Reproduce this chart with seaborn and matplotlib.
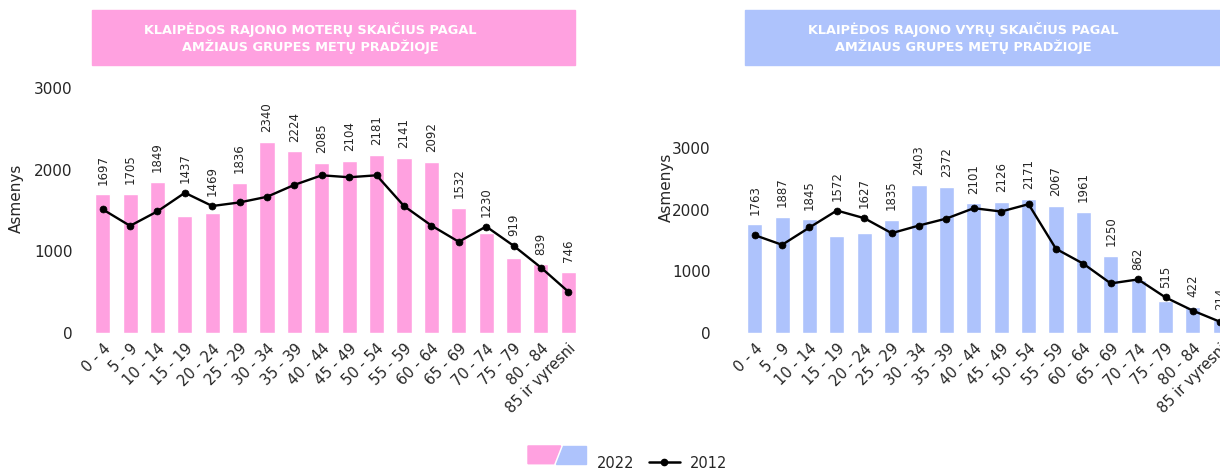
import numpy as np
import matplotlib
matplotlib.use("Agg")
import matplotlib.pyplot as plt
from matplotlib.patches import Rectangle, Polygon
from matplotlib.lines import Line2D
import seaborn as sns

ages = ["0 - 4", "5 - 9", "10 - 14", "15 - 19", "20 - 24", "25 - 29", "30 - 34",
        "35 - 39", "40 - 44", "45 - 49", "50 - 54", "55 - 59", "60 - 64",
        "65 - 69", "70 - 74", "75 - 79", "80 - 84", "85 ir vyresni"]

women_2022 = [1697, 1705, 1849, 1437, 1469, 1836, 2340, 2224, 2085, 2104, 2181,
              2141, 2092, 1532, 1230, 919, 839, 746]
women_2012 = [1514, 1312, 1490, 1717, 1555, 1599, 1668, 1814, 1931, 1907, 1931,
              1555, 1316, 1117, 1304, 1069, 802, 506]

men_2022 = [1763, 1887, 1845, 1572, 1627, 1835, 2403, 2372, 2101, 2126, 2171,
            2067, 1961, 1250, 862, 515, 422, 214]
men_2012 = [1587, 1430, 1711, 1986, 1862, 1619, 1743, 1856, 2024, 1970, 2089,
            1365, 1123, 804, 869, 577, 362, 180]

titles = ["KLAIPĖDOS RAJONO MOTERŲ SKAIČIUS PAGAL\nAMŽIAUS GRUPES METŲ PRADŽIOJE",
          "KLAIPĖDOS RAJONO VYRŲ SKAIČIUS PAGAL\nAMŽIAUS GRUPES METŲ PRADŽIOJE"]

PINK = "#FFA1E0"
BLUE = "#AEC3FC"

sns.set_style("white")
plt.rcParams["font.family"] = ["DejaVu Sans"]

fig = plt.figure(figsize=(12.2, 4.7), dpi=100)
W, H = 1220, 470


def px_axes(x0, x1, y_top, y_bot):
    return fig.add_axes([x0 / W, 1 - y_bot / H, (x1 - x0) / W, (y_bot - y_top) / H])


def draw_panel(ax, bars, line, color, title, box_x, label_x, label_y, pad):
    sns.barplot(x=ages, y=bars, color=color, width=0.55, saturation=1, ax=ax)
    sns.pointplot(x=ages, y=line, color="black", markers="o", markersize=5,
                  markeredgewidth=0.5, linewidth=1.7, ax=ax)
    ax.set_xlim(-0.5, len(ages) - 0.5)
    ax.set_ylim(0, 3000)
    ax.set_yticks([0, 1000, 2000, 3000])
    for s in ax.spines.values():
        s.set_visible(False)
    ax.tick_params(axis="both", length=0, labelsize=10.5)
    ax.tick_params(axis="y", pad=pad, labelsize=11)
    ax.tick_params(axis="x", pad=6)
    plt.setp(ax.get_xticklabels(), rotation=45, ha="right", rotation_mode="anchor")
    ax.set_xlabel("")
    ax.set_ylabel("Asmenys", fontsize=11)
    ax.yaxis.set_label_coords(label_x, label_y)
    for i, (b, l) in enumerate(zip(bars, line)):
        ax.annotate(str(b), (i, max(b, l)), xytext=(0, 7), textcoords="offset points",
                    rotation=90, ha="center", va="bottom", fontsize=8.5,
                    annotation_clip=False)
    # title box
    fig.patches.append(Rectangle((box_x / W, 1 - 65 / H), 483 / W, 55 / H,
                                 transform=fig.transFigure, color=color, zorder=0))
    fig.text((box_x + 218) / W, 1 - 38 / H, title, ha="center", va="center",
             color="white", fontsize=9.3, fontweight="bold", linespacing=1.2)


ax1 = px_axes(89, 582, 88, 333)
draw_panel(ax1, women_2022, women_2012, PINK, titles[0], 92, -0.132, 0.55, 12)

ax2 = px_axes(741, 1234, 148, 333)
draw_panel(ax2, men_2022, men_2012, BLUE, titles[1], 745, -0.137, 0.79, 22)


class SplitPatch:
    pass


class SplitHandler:
    def legend_artist(self, legend, orig_handle, fontsize, handlebox):
        x0, y0 = handlebox.xdescent, handlebox.ydescent
        w, h = handlebox.width, handlebox.height
        tr = handlebox.get_transform()
        p1 = Polygon([[x0, y0], [x0 + w * 0.44, y0], [x0 + w * 0.56, y0 + h],
                      [x0, y0 + h]], closed=True, color=PINK, transform=tr)
        p2 = Polygon([[x0 + w * 0.48, y0], [x0 + w, y0], [x0 + w, y0 + h],
                      [x0 + w * 0.60, y0 + h]], closed=True, color=BLUE, transform=tr)
        handlebox.add_artist(p1)
        handlebox.add_artist(p2)
        return p1


leg_y = 1 - 463 / H
fig.legend([SplitPatch()], ["2022"], handler_map={SplitPatch: SplitHandler()},
           loc="center", bbox_to_anchor=(581 / W, leg_y), frameon=False,
           fontsize=10.5, handlelength=4.0, handleheight=1.5, handletextpad=0.7,
           borderpad=0, borderaxespad=0)
line_handle = Line2D([], [], color="black", marker="o", markersize=4.5, linewidth=1.8)
fig.legend([line_handle], ["2012"], loc="center", bbox_to_anchor=(688 / W, leg_y),
           frameon=False, fontsize=10.5, handlelength=2.1, handletextpad=0.7,
           borderpad=0, borderaxespad=0)

fig.savefig("out.png", dpi=100)
